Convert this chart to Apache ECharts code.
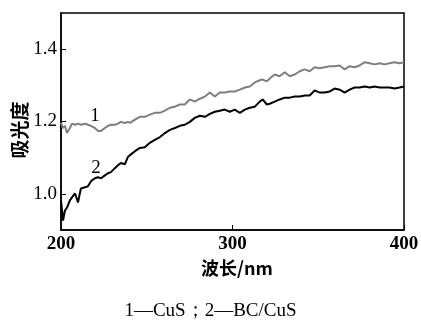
<!DOCTYPE html>
<html>
<head>
<meta charset="utf-8">
<script src="https://cdn.jsdelivr.net/npm/echarts@6/dist/echarts.min.js"></script>
<style>
  html, body { margin: 0; padding: 0; background: #fff; }
  #chart { width: 421px; height: 321px; }
</style>
</head>
<body>
<div id="chart"></div>
<script>
// wavelength (nm)
const wavelength = [
  200.0, 201.2, 202.3, 203.5, 205.2, 206.4, 208.2, 209.9, 211.6, 214.0,
  215.7, 217.5, 219.8, 221.5, 223.3, 225.6, 227.4, 229.1, 231.4, 233.2,
  234.9, 237.3, 239.0, 240.2, 243.1, 246.0, 248.9, 251.8, 254.7, 257.7,
  260.6, 263.5, 266.4, 269.3, 272.2, 275.1, 278.0, 281.0, 283.9, 286.8,
  289.7, 292.6, 295.5, 298.4, 301.3, 304.3, 307.2, 310.1, 313.0, 315.9,
  317.6, 320.0, 321.7, 324.6, 327.5, 330.5, 333.4, 336.3, 339.2, 342.1,
  345.0, 347.9, 350.8, 353.8, 356.7, 359.6, 362.5, 365.4, 368.3, 371.2,
  374.1, 377.1, 380.0, 382.9, 385.8, 388.7, 391.6, 394.5, 397.4, 400.0
]
// curve 1 — CuS
const absCuS = [
  1.196, 1.182, 1.188, 1.168, 1.182, 1.194, 1.191, 1.194, 1.191, 1.194,
  1.191, 1.188, 1.182, 1.174, 1.174, 1.182, 1.188, 1.191, 1.191, 1.194,
  1.199, 1.196, 1.199, 1.196, 1.205, 1.213, 1.213, 1.219, 1.224, 1.224,
  1.230, 1.238, 1.241, 1.247, 1.247, 1.261, 1.255, 1.263, 1.269, 1.280,
  1.269, 1.280, 1.280, 1.283, 1.283, 1.288, 1.294, 1.297, 1.308, 1.314,
  1.316, 1.311, 1.319, 1.330, 1.325, 1.336, 1.325, 1.330, 1.339, 1.344,
  1.339, 1.350, 1.347, 1.350, 1.353, 1.353, 1.355, 1.344, 1.353, 1.350,
  1.355, 1.364, 1.361, 1.358, 1.361, 1.358, 1.361, 1.364, 1.361, 1.364
]
// curve 2 — BC/CuS
const absBCCuS = [
  0.982, 0.926, 0.954, 0.962, 0.982, 0.990, 1.001, 0.976, 1.015, 1.018,
  1.021, 1.035, 1.043, 1.046, 1.043, 1.051, 1.057, 1.060, 1.071, 1.079,
  1.085, 1.082, 1.102, 1.107, 1.118, 1.127, 1.129, 1.141, 1.149, 1.157,
  1.168, 1.177, 1.182, 1.188, 1.191, 1.199, 1.210, 1.216, 1.213, 1.221,
  1.227, 1.230, 1.233, 1.227, 1.233, 1.224, 1.233, 1.238, 1.241, 1.255,
  1.261, 1.247, 1.249, 1.255, 1.261, 1.266, 1.266, 1.269, 1.269, 1.272,
  1.272, 1.286, 1.280, 1.280, 1.283, 1.291, 1.288, 1.280, 1.288, 1.294,
  1.294, 1.297, 1.294, 1.297, 1.294, 1.294, 1.294, 1.291, 1.294, 1.297
]
const yTicks = [1.0, 1.2, 1.4]
const xTicks = [200, 300, 400]

const serif = '"Liberation Serif", "Times New Roman", serif'
const cjk = '"Noto Sans CJK SC", sans-serif'

const zip = (xs, ys) => xs.map((x, i) => [x, ys[i]])

function curveLabel(text, coord) {
  return {
    symbol: 'circle',
    symbolSize: 0,
    data: [{ coord: coord }],
    label: {
      show: true,
      formatter: text,
      fontFamily: serif,
      fontSize: 19,
      color: '#000',
      position: 'inside'
    }
  }
}

const chart = echarts.init(document.getElementById('chart'))
chart.setOption({
  animation: false,
  grid: {
    left: 61, right: 17, top: 13, bottom: 91,
    outerBoundsMode: 'none',
    show: true, borderColor: '#000', borderWidth: 1.5
  },
  xAxis: {
    type: 'value',
    min: 200, max: 400, interval: 100,
    name: '波长/nm',
    nameLocation: 'middle',
    nameGap: 24,
    nameTextStyle: { fontFamily: cjk, fontSize: 18, fontWeight: 'bold', color: '#000', padding: [0, 0, 0, 9] },
    axisLine: { lineStyle: { color: '#000', width: 1.5 } },
    axisTick: { inside: true, length: 5, customValues: xTicks, lineStyle: { color: '#000', width: 1 } },
    axisLabel: { customValues: xTicks, margin: 5, fontFamily: serif, fontSize: 19, fontWeight: 'bold', color: '#000' },
    splitLine: { show: false }
  },
  yAxis: {
    type: 'value',
    min: 0.9, max: 1.5,
    axisLine: { lineStyle: { color: '#000', width: 1.5 } },
    axisTick: { inside: true, length: 5, customValues: yTicks, lineStyle: { color: '#000', width: 1 } },
    axisLabel: {
      customValues: yTicks, margin: 4,
      fontFamily: serif, fontSize: 19, color: '#000',
      formatter: v => v.toFixed(1)
    },
    splitLine: { show: false }
  },
  graphic: [
    {
      // y-axis title, vertical
      type: 'text',
      x: 20, y: 130,
      rotation: Math.PI / 2,
      style: {
        text: '吸光度',
        font: 'bold 19px "Noto Sans CJK SC", sans-serif',
        fill: '#000',
        align: 'center',
        verticalAlign: 'middle'
      }
    },
    {
      type: 'text',
      left: 'center',
      top: 302,
      style: { text: '1—CuS；2—BC/CuS', font: '19px "Liberation Serif", serif', fill: '#000' }
    }
  ],
  series: [
    {
      name: 'CuS',
      type: 'line',
      data: zip(wavelength, absCuS),
      showSymbol: false,
      lineStyle: { color: '#7f7f7f', width: 2 },
      markPoint: curveLabel('1', [219.8, 1.216])
    },
    {
      name: 'BC/CuS',
      type: 'line',
      data: zip(wavelength, absBCCuS),
      showSymbol: false,
      lineStyle: { color: '#000', width: 2 },
      markPoint: curveLabel('2', [220.4, 1.071])
    }
  ]
})
</script>
</body>
</html>
